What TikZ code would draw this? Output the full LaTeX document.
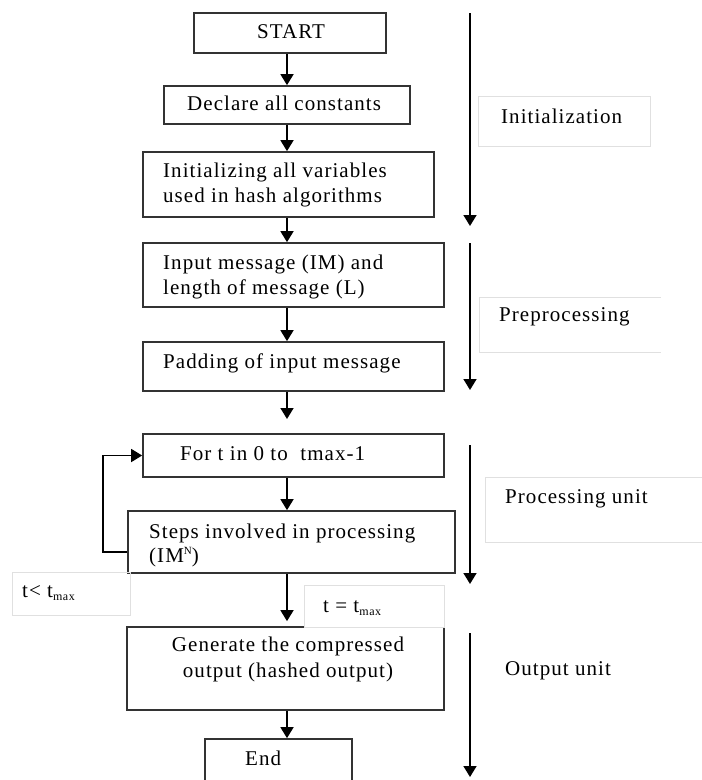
\documentclass[tikz,border=0pt]{standalone}
\usepackage{fontspec}
\setmainfont{Liberation Serif}[LetterSpace=5.0]
\usetikzlibrary{arrows.meta}
\newcommand{\fsz}{\fontsize{21}{25}\selectfont}
\newcommand{\mysub}[1]{\raisebox{-3pt}{\fontsize{12}{12}\selectfont #1}}
\newcommand{\mysup}[1]{\raisebox{8pt}{\fontsize{11}{11}\selectfont #1}}
\begin{document}
\begin{tikzpicture}[x=1pt,y=-1pt,
  box/.style={draw=black!80, line width=1.7pt, rectangle, inner sep=0pt},
  labbox/.style={draw=black!12, line width=1pt},
  txt/.style={anchor=base west, inner sep=0pt, font=\fsz},
  ctxt/.style={anchor=base, inner sep=0pt, font=\fsz},
  arr/.style={-{Triangle[length=11pt,width=13pt]}, line width=1.6pt, black},
]
\useasboundingbox (0,0) rectangle (702,780);
\clip (0,0) rectangle (702,780);

% main boxes
\node[box, minimum width=192pt, minimum height=40pt] (start) at (290,33) {};
\node[box, minimum width=246pt, minimum height=38pt] (declare) at (287,105) {};
\node[box, minimum width=291pt, minimum height=65pt] (init) at (288.5,184.5) {};
\node[box, minimum width=301pt, minimum height=64pt] (input) at (293.5,275) {};
\node[box, minimum width=301pt, minimum height=49pt] (pad) at (293.5,366.5) {};
\node[box, minimum width=301pt, minimum height=43pt] (for) at (293.5,455.5) {};
\node[box, minimum width=327pt, minimum height=62pt] (steps) at (291.5,542) {};
\node[box, minimum width=317pt, minimum height=83pt] (gen) at (285.5,668.5) {};
\node[box, minimum width=147pt, minimum height=61pt] (end) at (278.5,769.5) {};

% light label boxes
\node[labbox, minimum width=172pt, minimum height=50pt, inner sep=0pt] (initbox) at (564,121) {};
\draw[labbox] (661,297) -- (479,297) -- (479,352) -- (661,352);
\draw[labbox] (702,477) -- (485,477) -- (485,542) -- (702,542);
\node[labbox, minimum width=118pt, minimum height=43pt, inner sep=0pt] (ltbox) at (71,593.5) {};
\node[labbox, minimum width=140pt, minimum height=42pt, inner sep=0pt, fill=white] (eqbox) at (374,606) {};

% texts
\node[txt] (tstart) at (257,38) {START};
\node[txt] (tdecl) at (187,110) {Declare all constants};
\node[txt] (tinit1) at (163,177) {Initializing all variables};
\node[txt] (tinit2) at (163,202) {used in hash algorithms};
\node[txt] (tin1) at (163,269) {Input message (IM) and};
\node[txt] (tin2) at (163,294) {length of message (L)};
\node[txt] (tpad) at (163,368) {Padding of input message};
\node[txt] (tfor) at (180,460) {For t in 0 to \ tmax-1};
\node[txt] (tst1) at (149,538) {Steps involved in processing};
\node[txt] (tst2) at (149,562) {(IM\mysup{N})};
\node[txt] (tlt) at (22,597) {t< t\mysub{max}};
\node[txt] (teq) at (323,612) {t = t\mysub{max}};
\node[ctxt] (tgen1) at (288,651) {Generate the compressed};
\node[ctxt] (tgen2) at (288,677) {output (hashed output)};
\node[txt] (tend) at (245,765) {End};
\node[txt] (linit) at (501,123) {Initialization};
\node[txt] (lpre) at (499,321) {Preprocessing};
\node[txt] (lproc) at (505,503) {Processing unit};
\node[txt] (lout) at (505,675) {Output unit};

% connectors
\coordinate (mx) at (287,0);
\draw[arr] (start.south -| mx) -- (declare.north -| mx);
\draw[arr] (declare.south -| mx) -- (init.north -| mx);
\draw[arr] (init.south -| mx) -- (input.north -| mx);
\draw[arr] (input.south -| mx) -- (pad.north -| mx);
\coordinate (padend) at (287,419);
\draw[arr] (pad.south -| mx) -- (padend);
\draw[arr] (for.south -| mx) -- (steps.north -| mx);
\draw[arr, shorten >=5pt] (steps.south -| mx) -- (gen.north -| mx);
\draw[arr] (gen.south -| mx) -- (end.north -| mx);
\draw[arr] ([yshift=-10pt]steps.west) -- ++(-24,0) |- (for.west);

% phase arrows
\coordinate (a1s) at (470,13);  \coordinate (a1e) at (470,226);
\coordinate (a2s) at (470,243); \coordinate (a2e) at (470,390);
\coordinate (a3s) at (470,445); \coordinate (a3e) at (470,584);
\coordinate (a4s) at (470,633); \coordinate (a4e) at (470,777);
\draw[arr] (a1s) -- (a1e);
\draw[arr] (a2s) -- (a2e);
\draw[arr] (a3s) -- (a3e);
\draw[arr] (a4s) -- (a4e);
\end{tikzpicture}
\end{document}
